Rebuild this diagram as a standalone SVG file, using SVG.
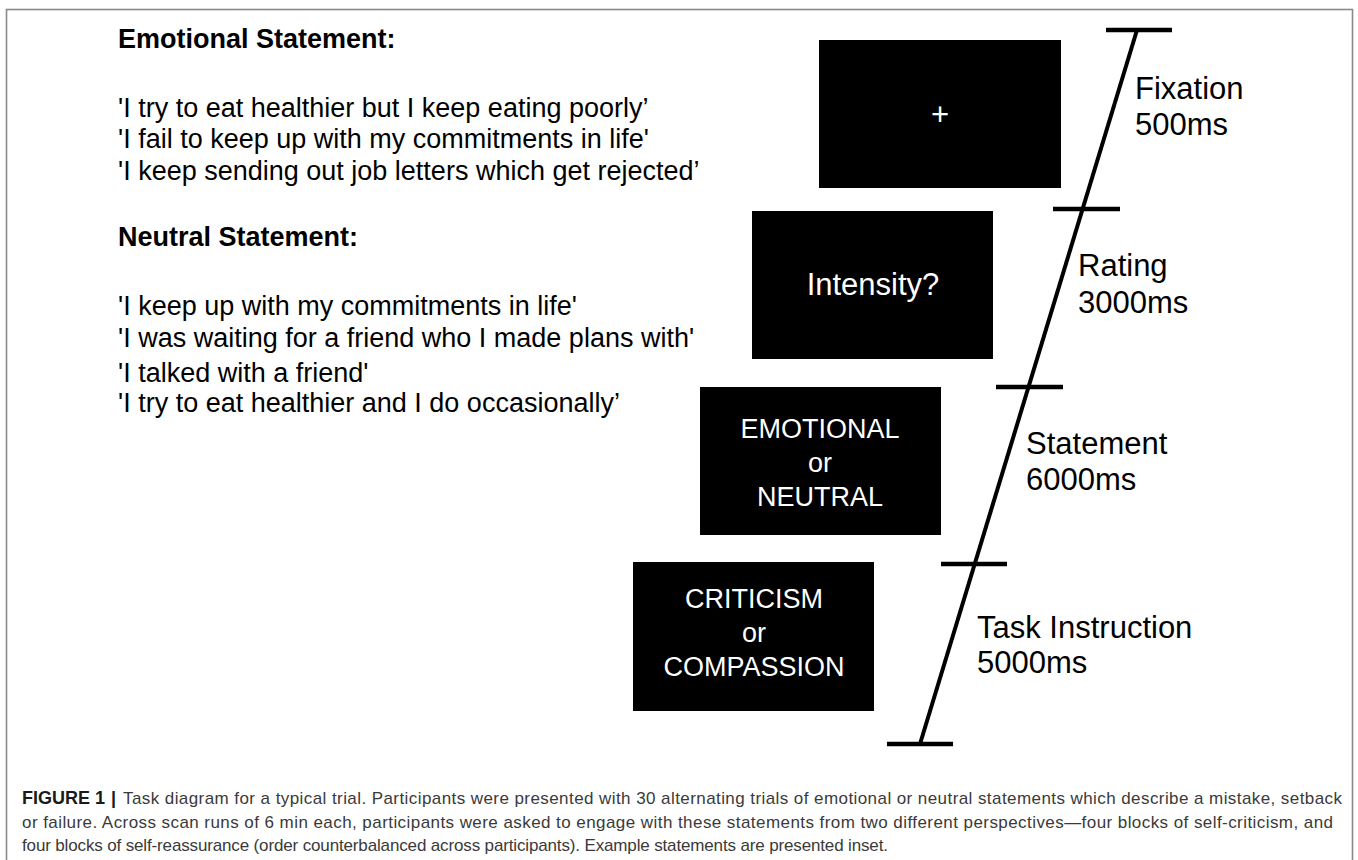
<svg xmlns="http://www.w3.org/2000/svg" width="1358" height="860" viewBox="0 0 1358 860">
<style>
  .bg { fill: #ffffff; }
  .frame { fill: none; stroke: #8a8a8a; stroke-width: 1.6; }
  .head { font-family: "Liberation Sans", Arial, sans-serif; font-size: 27px; font-weight: bold; fill: #000; }
  .stmt { font-family: "Liberation Sans", Arial, sans-serif; font-size: 27px; fill: #000; }
  .screen { fill: #000; }
  .scrtxt { font-family: "Liberation Sans", Arial, sans-serif; font-size: 27px; fill: #fff; text-anchor: middle; }
  .scrbig { font-family: "Liberation Sans", Arial, sans-serif; font-size: 31px; fill: #fff; text-anchor: middle; }
  .lbl { font-family: "Liberation Sans", Arial, sans-serif; font-size: 31px; fill: #000; }
  .axis { stroke: #000; stroke-width: 4; fill: none; }
  .tick { stroke: #000; stroke-width: 4.5; fill: none; }
  .cap { font-family: "Liberation Sans", Arial, sans-serif; font-size: 17px; fill: #3a3a3a; }
  .capb { font-family: "Liberation Sans", Arial, sans-serif; font-size: 18px; font-weight: bold; fill: #1a1a1a; }
</style>
<rect class="bg" x="0" y="0" width="1358" height="860"/>
<rect class="frame" x="6.5" y="9.5" width="1346" height="900"/>

<g id="examples">
  <text class="head" x="118" y="48">Emotional Statement:</text>
  <text class="stmt" x="118" y="117">'I try to eat healthier but I keep eating poorly’</text>
  <text class="stmt" x="118" y="148">'I fail to keep up with my commitments in life'</text>
  <text class="stmt" x="118" y="180">'I keep sending out job letters which get rejected’</text>
  <text class="head" x="118" y="246">Neutral Statement:</text>
  <text class="stmt" x="118" y="315">'I keep up with my commitments in life'</text>
  <text class="stmt" x="118" y="347">'I was waiting for a friend who I made plans with'</text>
  <text class="stmt" x="118" y="382">'I talked with a friend'</text>
  <text class="stmt" x="118" y="412">'I try to eat healthier and I do occasionally’</text>
</g>

<g id="screen-fixation">
  <rect class="screen" x="819" y="40" width="242" height="148"/>
  <text class="scrbig" x="940" y="125">+</text>
</g>
<g id="screen-rating">
  <rect class="screen" x="752" y="211" width="241" height="148"/>
  <text class="scrbig" x="873" y="295">Intensity?</text>
</g>
<g id="screen-statement">
  <rect class="screen" x="700" y="387" width="241" height="148"/>
  <text class="scrtxt" x="820" y="438">EMOTIONAL</text>
  <text class="scrtxt" x="820" y="472">or</text>
  <text class="scrtxt" x="820" y="506">NEUTRAL</text>
</g>
<g id="screen-instruction">
  <rect class="screen" x="633" y="562" width="241" height="149"/>
  <text class="scrtxt" x="754" y="608">CRITICISM</text>
  <text class="scrtxt" x="754" y="642">or</text>
  <text class="scrtxt" x="754" y="676">COMPASSION</text>
</g>

<g id="connectors">
  <line class="axis" x1="1137" y1="30" x2="920" y2="744"/>
  <line class="tick" x1="1106" y1="30" x2="1172" y2="30"/>
  <line class="tick" x1="1053" y1="209" x2="1120" y2="209"/>
  <line class="tick" x1="996" y1="387" x2="1063" y2="387"/>
  <line class="tick" x1="941" y1="564" x2="1007" y2="564"/>
  <line class="tick" x1="887" y1="744" x2="953" y2="744"/>
</g>

<g id="label-fixation">
  <text class="lbl" x="1135" y="99">Fixation</text>
  <text class="lbl" x="1135" y="135">500ms</text>
</g>
<g id="label-rating">
  <text class="lbl" x="1078" y="276">Rating</text>
  <text class="lbl" x="1078" y="313">3000ms</text>
</g>
<g id="label-statement">
  <text class="lbl" x="1026" y="454">Statement</text>
  <text class="lbl" x="1026" y="490">6000ms</text>
</g>
<g id="label-instruction">
  <text class="lbl" x="977" y="638">Task Instruction</text>
  <text class="lbl" x="977" y="673">5000ms</text>
</g>

<g id="caption">
  <text class="capb" x="22" y="804">FIGURE 1</text>
  <text class="capb" x="111" y="804">|</text>
  <text class="cap" x="123" y="804" textLength="1219" lengthAdjust="spacing">Task diagram for a typical trial. Participants were presented with 30 alternating trials of emotional or neutral statements which describe a mistake, setback</text>
  <text class="cap" x="22" y="828" textLength="1311" lengthAdjust="spacing">or failure. Across scan runs of 6 min each, participants were asked to engage with these statements from two different perspectives—four blocks of self-criticism, and</text>
  <text class="cap" x="22" y="851" textLength="866" lengthAdjust="spacing">four blocks of self-reassurance (order counterbalanced across participants). Example statements are presented inset.</text>
</g>
</svg>
